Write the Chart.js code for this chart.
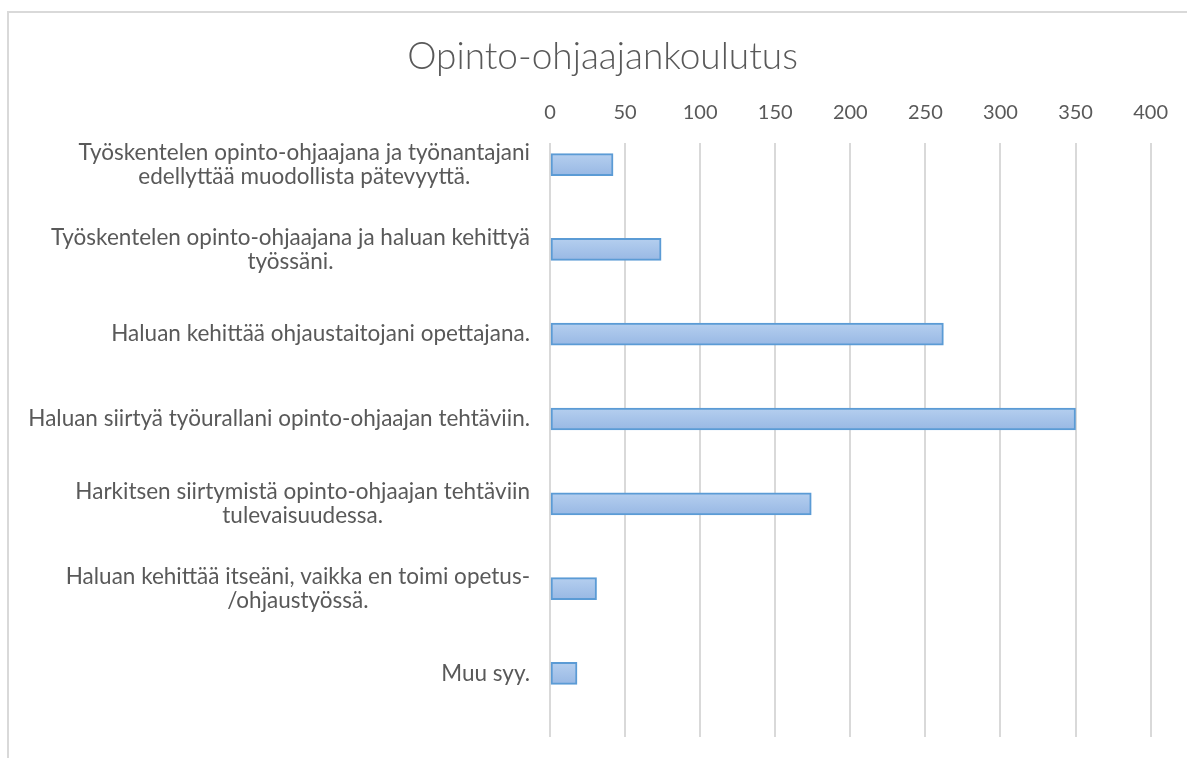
<!DOCTYPE html>
<html lang="fi">
<head>
<meta charset="utf-8">
<title>Opinto-ohjaajankoulutus</title>
<script src="https://cdn.jsdelivr.net/npm/chart.js@4.4.1/dist/chart.umd.min.js"></script>
<style>
  html, body { margin: 0; padding: 0; background: #fff; overflow: hidden; }
  #kehys {
    position: absolute; left: 7px; top: 11px;
    width: 1300px; height: 900px;
    border: 2px solid #d9d9d9;
  }
  #grafiikka { position: absolute; left: 0; top: 0; }
</style>
</head>
<body>
<div id="kehys"></div>
<canvas id="grafiikka" width="1187" height="758"></canvas>
<script>
const otsikko = 'Opinto-ohjaajankoulutus';

const syyt = [
    ['Työskentelen opinto-ohjaajana ja työnantajani', 'edellyttää muodollista pätevyyttä.'],
    ['Työskentelen opinto-ohjaajana ja haluan kehittyä', 'työssäni.'],
    ['Haluan kehittää ohjaustaitojani opettajana.'],
    ['Haluan siirtyä työurallani opinto-ohjaajan tehtäviin.'],
    ['Harkitsen siirtymistä opinto-ohjaajan tehtäviin', 'tulevaisuudessa.'],
    ['Haluan kehittää itseäni, vaikka en toimi opetus-', '/ohjaustyössä.'],
    ['Muu syy.']
];

const vastaukset = [42, 74, 262, 350, 174, 31, 18];

const asteikkoMin = 0;
const asteikkoMax = 400;
const asteikkoVali = 50;

const tekstinVari = '#595959';
const fontti = 'Lato, "Open Sans", sans-serif';

// category labels: right edge next to the axis, lines centred on each other
const syyTekstit = {
    id: 'syyTekstit',
    afterDraw(chart) {
        const ctx = chart.ctx;
        const yAkseli = chart.scales.y;
        const oikea = chart.chartArea.left - 20;
        const riviKorkeus = 24;

        ctx.save();
        ctx.font = '22.5px ' + fontti;
        ctx.fillStyle = tekstinVari;
        ctx.textAlign = 'center';
        ctx.textBaseline = 'middle';

        syyt.forEach((rivit, i) => {
            const leveys = Math.max(...rivit.map(r => ctx.measureText(r).width));
            const keskiX = oikea - leveys / 2;
            const keskiY = yAkseli.getPixelForValue(i);
            rivit.forEach((rivi, j) => {
                ctx.fillText(rivi, keskiX, keskiY + (j - (rivit.length - 1) / 2) * riviKorkeus);
            });
        });
        ctx.restore();
    }
};

function palkinTayte(c) {
    const y = c.chart.scales && c.chart.scales.y;
    const keski = (c.type === 'data' && y) ? y.getPixelForValue(c.dataIndex) : NaN;
    if (!isFinite(keski)) {
        return '#a6c2e9';
    }
    const liuku = c.chart.ctx.createLinearGradient(0, keski - 11, 0, keski + 11);
    liuku.addColorStop(0, '#b5cfef');
    liuku.addColorStop(1, '#98b8e4');
    return liuku;
}

const ctx = document.getElementById('grafiikka').getContext('2d');

new Chart(ctx, {
    type: 'bar',
    data: {
        datasets: [{
            label: otsikko,
            data: vastaukset.map((v, i) => ({ x: v, y: i })),
            backgroundColor: palkinTayte,
            borderColor: '#5b9bd5',
            borderWidth: 2,
            borderSkipped: false,
            barThickness: 22
        }]
    },
    plugins: [syyTekstit],
    options: {
        indexAxis: 'y',
        responsive: false,
        animation: false,
        layout: {
            padding: { left: 51, right: 33, top: 10, bottom: 21 }
        },
        scales: {
            x: {
                type: 'linear',
                position: 'top',
                min: asteikkoMin,
                max: asteikkoMax,
                ticks: {
                    stepSize: asteikkoVali,
                    color: tekstinVari,
                    font: { family: fontti, size: 20 },
                    padding: 19
                },
                grid: {
                    color: '#d9d9d9',
                    lineWidth: 2,
                    drawTicks: false
                },
                border: { display: false },
                afterFit: (akseli) => { akseli.height = 62; }
            },
            y: {
                type: 'linear',
                reverse: true,
                offset: false,
                min: -0.25,
                max: syyt.length - 0.25,
                ticks: { display: false },
                grid: { display: false, offset: false },
                border: { display: false },
                afterFit: (akseli) => { akseli.width = 499; }
            }
        },
        plugins: {
            legend: { display: false },
            tooltip: { enabled: false },
            title: {
                display: true,
                text: otsikko,
                color: tekstinVari,
                font: { family: fontti, size: 37, weight: '300' },
                padding: { top: 25, bottom: 2 }
            }
        }
    }
});
</script>
</body>
</html>
